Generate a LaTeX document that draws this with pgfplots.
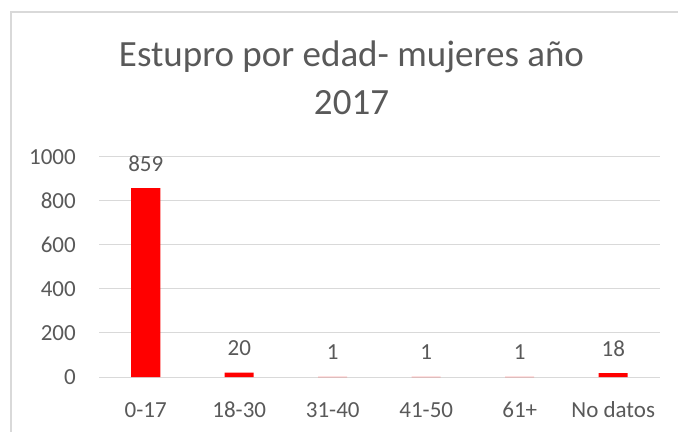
\documentclass[border=0pt]{standalone}
\usepackage{pgfplots}
\pgfplotsset{compat=1.18}
\usepackage{fontspec}
\setmainfont{Carlito}
\definecolor{txt}{HTML}{595959}
\definecolor{grd}{HTML}{D9D9D9}
\definecolor{barred}{HTML}{FF0000}
\begin{document}
\begin{tikzpicture}
\path[use as bounding box] (0bp,0bp) rectangle (678bp,432bp);
\draw[grd, line width=1.2bp] (11bp,-5bp) -- (11bp,420bp) -- (690bp,420bp);
\node[anchor=base, text=txt, font=\fontsize{37bp}{44bp}\selectfont, inner sep=0pt] at (351.5bp,365.3bp) {Estupro por edad- mujeres año};
\node[anchor=base, text=txt, font=\fontsize{37bp}{44bp}\selectfont, inner sep=0pt] at (351.5bp,317bp) {2017};
\begin{axis}[
  at={(99bp,55bp)}, anchor=south west,
  width=561bp, height=220bp, scale only axis,
  xmin=-0.5, xmax=5.5, ymin=0, ymax=1000,
  ytick={0,200,400,600,800,1000},
  xtick={0,1,2,3,4,5},
  xticklabels={0-17,18-30,31-40,41-50,61+,No datos},
  ymajorgrids, grid style={grd, line width=1bp},
  axis line style={draw=none},
  major tick length=0pt, tick style={draw=none},
  /pgf/number format/assume math mode=true,
  /pgf/number format/1000 sep={},
  scaled y ticks=false,
  ticklabel style={text=txt, font=\fontsize{23bp}{28bp}\selectfont, inner sep=0pt},
  yticklabel style={anchor=east, xshift=-23bp},
  xticklabel style={anchor=base, yshift=-40bp},
  ybar, bar width=29bp,
  nodes near coords,
  every node near coord/.append style={anchor=base, yshift=17bp, inner sep=0pt, text=txt, font=\fontsize{23bp}{28bp}\selectfont},
  clip=false,
]
\addplot[fill=barred, draw=none] coordinates {(0,859) (1,20) (2,1) (3,1) (4,1) (5,18)};
\end{axis}
\end{tikzpicture}
\end{document}
